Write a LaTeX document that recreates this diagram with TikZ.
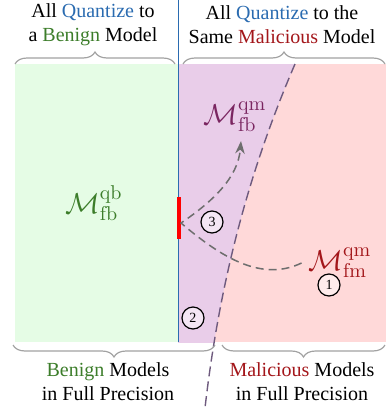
\documentclass[tikz,border=0pt]{standalone}
\usepackage[no-math]{fontspec}
\setmainfont{Liberation Serif}
\usetikzlibrary{arrows.meta,decorations.pathreplacing}

\definecolor{qblue}{HTML}{2A6BB0}
\definecolor{qgreen}{HTML}{3C7D2A}
\definecolor{qred}{HTML}{A3161A}
\definecolor{qplum}{HTML}{7A2560}
\definecolor{fillgreen}{HTML}{E5FCE5}
\definecolor{fillplum}{HTML}{E9CDE9}
\definecolor{fillpink}{HTML}{FFD9D9}
\definecolor{bracegray}{HTML}{A2A2A2}
\definecolor{edgeplum}{HTML}{6E5A7E}
\definecolor{arrowgray}{HTML}{6E6E6E}

\begin{document}
\begin{tikzpicture}[
  x=0.5pt,y=-0.5pt,
  >=Stealth,
  every node/.style={font=\fontsize{10}{12}\selectfont},
  title/.style={align=center},
  lab/.style={font=\Large},
  num/.style={circle,draw,line width=0.6pt,fill=white,fill opacity=0.5,text opacity=1,
    minimum size=11pt,inner sep=0pt,font=\scriptsize},
  br/.style={decorate,decoration={brace,amplitude=6pt},draw=bracegray,line width=0.6pt},
  mv/.style={->,arrowgray,line width=0.75pt,dash pattern=on 4pt off 2.5pt},
  edge/.style={edgeplum,line width=0.7pt,dash pattern=on 5pt off 2.5pt}
]
\useasboundingbox (0,0) rectangle (386,408);
% regions
\fill[fillgreen] (15,64) rectangle (178,342);
\fill[fillpink] (178,64) rectangle (386,342);
\begin{scope}
  \clip (178,64) rectangle (386,342);
  \fill[fillplum] (178,64) -- (295,64) .. controls (258,150) and (222,260) .. (205,408) -- (178,408) -- cycle;
\end{scope}
\draw[edge] (295,64) .. controls (258,150) and (222,260) .. (205,408);
\draw[qblue,line width=0.75pt] (178.5,0) -- (178.5,342);
\coordinate (bartop) at (179,197);
\coordinate (barbot) at (179,239);
\coordinate (hit) at (181,223);
\coordinate (tip) at (241,141);
\draw[red,line width=2pt] (bartop) -- (barbot);
% braces
\draw[br] (15,64) -- (175,64);
\draw[br] (183,64) -- (385,64);
\draw[br] (215,345) -- (13,345);
\draw[br] (385,345) -- (222,345);
% titles
\node[title] (tl) at (93,25) {All \textcolor{qblue}{Quantize} to\\a \textcolor{qgreen}{Benign} Model};
\node[title] (tr) at (282,25) {All \textcolor{qblue}{Quantize} to the\\Same \textcolor{qred}{Malicious} Model};
\node[title] (bl) at (108,382) {\textcolor{qgreen}{Benign} Models\\in Full Precision};
\node[title] (brt) at (302,382) {\textcolor{qred}{Malicious} Models\\in Full Precision};
% models
\node[lab,qgreen] (fbqb) at (94,203) {$\mathcal{M}_{\mathrm{fb}}^{\mathrm{qb}}$};
\node[lab,qplum] (fbqm) at (235,117) {$\mathcal{M}_{\mathrm{fb}}^{\mathrm{qm}}$};
\node[lab,qred] (fmqm) at (340,263) {$\mathcal{M}_{\mathrm{fm}}^{\mathrm{qm}}$};
\draw[mv] (fmqm.west) .. controls (262,282) and (222,258) .. (hit)
  .. controls (212,202) and (238,178) .. (tip);
% steps
\node[num] (n1) at (329,285) {1};
\node[num] (n2) at (193,318) {2};
\node[num] (n3) at (212,222) {3};
\end{tikzpicture}
\end{document}
